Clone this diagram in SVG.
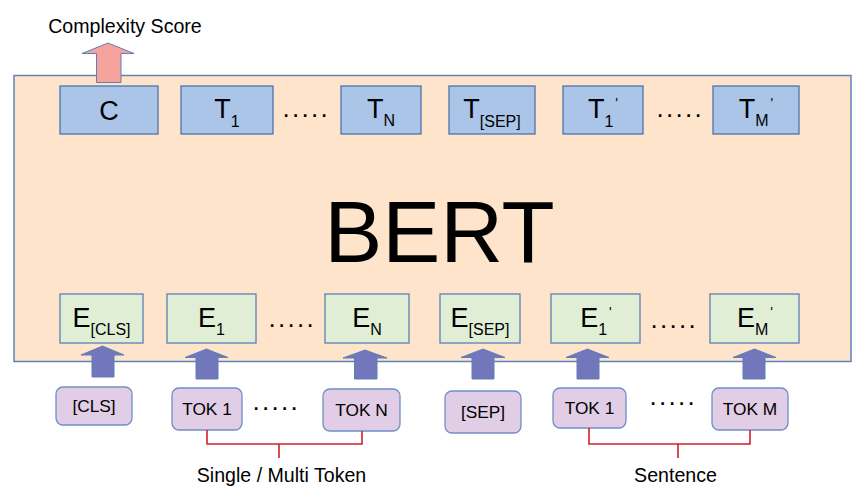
<svg xmlns="http://www.w3.org/2000/svg" width="862" height="492" viewBox="0 0 862 492">
<defs>
<style>
text{font-family:"Liberation Sans",Arial,sans-serif;fill:#000}
.bert{fill:#fde4ca;stroke:#5f82b9;stroke-width:1.5}
.tbox{fill:#aac5e8;stroke:#4f74ad;stroke-width:1.3}
.ebox{fill:#e0eed6;stroke:#5c80b6;stroke-width:1.3}
.tok{fill:#e1cde5;stroke:#6f8fc4;stroke-width:1.3}
.up{fill:#7177ba;stroke:#5f7fb8;stroke-width:1}
.out{fill:#f5a39c;stroke:#5f7fb8;stroke-width:1}
.big{font-size:27px}
.sub{font-size:16px}
.pr{font-size:14px}
.dots{font-size:26px;letter-spacing:2.3px}
.tk{font-size:17.3px;text-anchor:middle}
.lbl{font-size:19.6px;text-anchor:middle}
.br{fill:none;stroke:#d2202b;stroke-width:1.6}
</style>
</defs>
<g id="bert">
<rect class="bert" x="14" y="75.5" width="837" height="286"/>
<text x="439.5" y="261.5" font-size="87" text-anchor="middle">BERT</text>
</g>
<g id="score">
<text x="125" y="33" class="lbl">Complexity Score</text>
<path class="out" d="M96.5,82.5 V53.5 H82 L108,43 L134,53.5 H121 V82.5 Z"/>
</g>
<g id="C"><rect class="tbox" x="60" y="86" width="98" height="48"/><text class="big" x="109" y="119.5" text-anchor="middle">C</text></g>
<g id="T1"><rect class="tbox" x="181" y="86" width="92" height="48"/><text class="big" x="227" y="118" text-anchor="middle">T<tspan class="sub" dy="9">1</tspan></text></g>
<text class="dots" x="282.5" y="117">.....</text>
<g id="TN"><rect class="tbox" x="341" y="86" width="80" height="48"/><text class="big" x="381" y="118" text-anchor="middle">T<tspan class="sub" dy="8">N</tspan></text></g>
<g id="TSEP"><rect class="tbox" x="449" y="86" width="86" height="48"/><text class="big" x="492" y="118" text-anchor="middle">T<tspan class="sub" dy="9">[SEP]</tspan></text></g>
<g id="T1p"><rect class="tbox" x="563" y="86" width="80" height="48"/><text class="big" x="603" y="118" text-anchor="middle">T<tspan class="sub" dy="9">1</tspan><tspan class="pr" dx="2" dy="-19">'</tspan></text></g>
<text class="dots" x="656.5" y="116.5">.....</text>
<g id="TMp"><rect class="tbox" x="713" y="86" width="86" height="48"/><text class="big" x="756" y="118" text-anchor="middle">T<tspan class="sub" dy="8">M</tspan><tspan class="pr" dx="2" dy="-18">'</tspan></text></g>

<g id="ECLS"><rect class="ebox" x="60" y="294" width="83" height="49"/><text class="big" x="101.5" y="327" text-anchor="middle">E<tspan class="sub" dy="8">[CLS]</tspan></text></g>
<g id="E1"><rect class="ebox" x="167" y="294" width="89" height="49"/><text class="big" x="211.5" y="327" text-anchor="middle">E<tspan class="sub" dy="8">1</tspan></text></g>
<text class="dots" x="268.5" y="327">.....</text>
<g id="EN"><rect class="ebox" x="325" y="294" width="84" height="49"/><text class="big" x="367" y="327" text-anchor="middle">E<tspan class="sub" dy="8">N</tspan></text></g>
<g id="ESEP"><rect class="ebox" x="440" y="294" width="80" height="49"/><text class="big" x="480" y="327" text-anchor="middle">E<tspan class="sub" dy="8">[SEP]</tspan></text></g>
<g id="E1p"><rect class="ebox" x="551" y="294" width="89" height="49"/><text class="big" x="596" y="327" text-anchor="middle">E<tspan class="sub" dy="8">1</tspan><tspan class="pr" dx="2" dy="-18">'</tspan></text></g>
<text class="dots" x="650.5" y="328">.....</text>
<g id="EMp"><rect class="ebox" x="710" y="294" width="89" height="49"/><text class="big" x="755" y="327" text-anchor="middle">E<tspan class="sub" dy="8">M</tspan><tspan class="pr" dx="2" dy="-18">'</tspan></text></g>

<g id="arrows">
<path class="up" d="M92,377 V355 H81 L102.5,346 L124,355 H114 V377 Z"/>
<path class="up" d="M196,379 V357.5 H185 L206.5,349 L228,357.5 H218 V379 Z"/>
<path class="up" d="M354.5,379 V358 H343 L365,350 L387,358 H377 V379 Z"/>
<path class="up" d="M472,379 V357.5 H461 L483,349 L505,357.5 H494 V379 Z"/>
<path class="up" d="M577,379 V357.5 H566 L587.5,349 L609,357.5 H599 V379 Z"/>
<path class="up" d="M743,379 V357.5 H733 L754.5,349 L776,357.5 H765 V379 Z"/>
</g>

<g id="tokCLS"><rect class="tok" x="56" y="387" width="76" height="38" rx="7"/><text class="tk" x="94" y="412">[CLS]</text></g>
<g id="tok1"><rect class="tok" x="172" y="388" width="70" height="42" rx="7"/><text class="tk" x="207" y="415">TOK 1</text></g>
<text class="dots" x="252.5" y="410">.....</text>
<g id="tokN"><rect class="tok" x="323" y="389" width="77" height="42" rx="7"/><text class="tk" x="361.5" y="416">TOK N</text></g>
<g id="tokSEP"><rect class="tok" x="445" y="391" width="76" height="42" rx="7"/><text class="tk" x="483" y="418">[SEP]</text></g>
<g id="tok1p"><rect class="tok" x="553" y="388" width="73" height="40" rx="7"/><text class="tk" x="589.5" y="414">TOK 1</text></g>
<text class="dots" x="649.5" y="405">.....</text>
<g id="tokM"><rect class="tok" x="712" y="388" width="76" height="42" rx="7"/><text class="tk" x="750" y="415">TOK M</text></g>

<g id="brackets">
<path class="br" d="M207,430 V444 H362 V431 M279,444 V458"/>
<path class="br" d="M589,428 V444 H750 V430 M678,444 V458"/>
</g>
<text class="lbl" x="281.5" y="481.5">Single / Multi Token</text>
<text class="lbl" x="675.5" y="481.5">Sentence</text>
</svg>
